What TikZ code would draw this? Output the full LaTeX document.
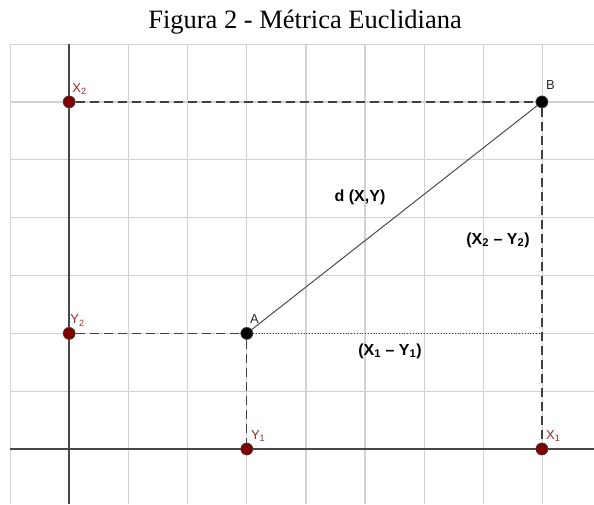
\documentclass[tikz,border=0pt]{standalone}
\usepackage{fontspec}
\setmainfont{Liberation Serif}
\setsansfont{Liberation Sans}
\usetikzlibrary{calc}

\definecolor{ptred}{RGB}{128,0,0}
\definecolor{lblred}{RGB}{160,40,40}
\definecolor{axisgray}{RGB}{70,70,70}
\definecolor{gridgray}{RGB}{210,210,210}

\begin{document}
\begin{tikzpicture}[
  x=1pt, y=-1pt,
  every node/.style={inner sep=1pt},
  dotred/.style={circle, draw=black!75, fill=ptred, inner sep=0pt, minimum size=12pt, line width=0.7pt},
  dotblack/.style={dotred, fill=black},
  tag/.style={font=\sffamily\fontsize{13}{13}\selectfont, text=black!85},
  redtag/.style={tag, text=lblred},
  dist/.style={font=\sffamily\bfseries\fontsize{16}{16}\selectfont},
  proj/.style={draw=black!75, line width=1.2pt, dash pattern=on 9pt off 5pt}
]
\useasboundingbox (0,0) rectangle (594,504);

% title
\node[font=\fontsize{26.5}{26.5}\selectfont] (title) at (305,22) {Figura 2 - Métrica Euclidiana};

% grid and axes
\begin{scope}
  \clip (10,44) rectangle (594,504);
  \foreach \i in {0,...,10}
    \draw[gridgray, line width=1.3pt] (10+59.19*\i,44) -- (10+59.19*\i,504);
  \foreach \j in {0,...,8}
    \draw[gridgray, line width=1.3pt] (10,44+57.86*\j) -- (594,44+57.86*\j);
  \draw[axisgray, line width=1.5pt] (69.19,44) -- (69.19,504);
  \draw[axisgray, line width=1.5pt] (10,449) -- (594,449);
\end{scope}

% points
\node[dotred]   (x2) at (69.19,101.9) {};
\node[dotblack] (b)  at (541.9,101.9) {};
\node[dotred]   (y2) at (69.19,333.4) {};
\node[dotblack] (a)  at (246.8,333.4) {};
\node[dotred]   (y1) at (246.8,449) {};
\node[dotred]   (x1) at (541.9,449) {};
\coordinate (foot) at (b |- a);

% connectors
\draw[proj] (x2) -- (b);
\draw[proj] (y2) -- (a);
\draw[proj] (a) -- (y1);
\draw[proj] (b) -- (x1);
\draw[black!75, line width=0.8pt, dotted] (a) -- (foot);
\draw[black!70, line width=1pt] (a) -- (b);

% labels
\node[redtag, anchor=south west] (x2lbl) at ($(x2)+(2,-6)$) {X\textsubscript{2}};
\node[redtag, anchor=south west] (y2lbl) at ($(y2)+(0,-6)$) {Y\textsubscript{2}};
\node[redtag, anchor=south west] (y1lbl) at ($(y1)+(3,-6)$) {Y\textsubscript{1}};
\node[redtag, anchor=south west] (x1lbl) at ($(x1)+(3,-6)$) {X\textsubscript{1}};
\node[tag, anchor=south west] (albl) at ($(a)+(2,-9)$) {A};
\node[tag, anchor=south west] (blbl) at ($(b)+(3,-11)$) {B};

\node[dist] (dxy) at (360,197) {d (X,Y)};
\node[dist] (dy) at (498,240) {(X\textsubscript{2} -- Y\textsubscript{2})};
\node[dist] (dx) at (390,351) {(X\textsubscript{1} -- Y\textsubscript{1})};
\end{tikzpicture}
\end{document}
